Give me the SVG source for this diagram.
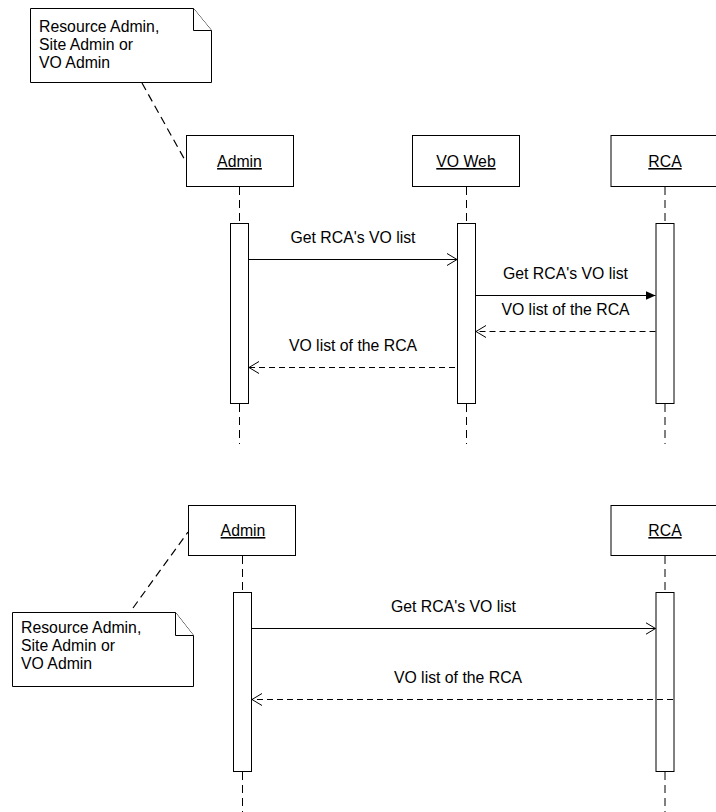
<svg xmlns="http://www.w3.org/2000/svg" width="716" height="812" viewBox="0 0 716 812">
  <style>
    .box { fill: #fff; stroke: #000; stroke-width: 1; }
    .act { fill: #fff; stroke: #000; stroke-width: 1; }
    .life { fill: none; stroke: #000; stroke-width: 1; stroke-dasharray: 8 5; }
    .msg { fill: none; stroke: #000; stroke-width: 1; }
    .ret { fill: none; stroke: #000; stroke-width: 1; stroke-dasharray: 6 4; }
    .anchor { fill: none; stroke: #000; stroke-width: 1.2; stroke-dasharray: 8 5; }
    .lbl { font-family: "Liberation Sans", Arial, sans-serif; font-size: 15.8px; fill: #000; }
    .name { font-family: "Liberation Sans", Arial, sans-serif; font-size: 15.8px; fill: #000; text-anchor: middle; text-decoration: underline; }
    .mid { text-anchor: middle; }
  </style>
  <defs>
    <marker id="open" markerWidth="12" markerHeight="14" refX="10" refY="7" orient="auto" markerUnits="userSpaceOnUse">
      <path d="M0,1 L10,7 L0,13" fill="none" stroke="#000" stroke-width="1"/>
    </marker>
    <marker id="solid" markerWidth="12" markerHeight="12" refX="10" refY="5" orient="auto" markerUnits="userSpaceOnUse">
      <path d="M0,0.5 L10,5 L0,9.5 Z" fill="#000"/>
    </marker>
  </defs>

  <rect width="716" height="812" fill="#fff"/>

  <!-- ===== First scenario: Admin / VO Web / RCA ===== -->
  <g id="note-top">
    <path class="box" d="M30.5,8.5 H193.5 L211.5,30.5 V82.5 H30.5 Z"/>
    <path class="box" d="M193.5,8.5 V30.5 H211.5"/>
    <text class="lbl" x="39" y="32">Resource Admin,</text>
    <text class="lbl" x="39" y="50">Site Admin or</text>
    <text class="lbl" x="39" y="68">VO Admin</text>
  </g>

  <g id="admin-top">
    <rect class="box" x="186.5" y="135.5" width="107" height="51"/>
    <text class="name" x="239.5" y="167">Admin</text>
    <line class="life" x1="239.5" y1="187" x2="239.5" y2="223"/>
    <rect class="act" x="230.5" y="223.5" width="18" height="180"/>
    <line class="life" x1="239.5" y1="404" x2="239.5" y2="444"/>
  </g>

  <g id="voweb-top">
    <rect class="box" x="412.5" y="135.5" width="107" height="51"/>
    <text class="name" x="466" y="167">VO Web</text>
    <line class="life" x1="466.5" y1="187" x2="466.5" y2="223"/>
    <rect class="act" x="457.5" y="223.5" width="18" height="180"/>
    <line class="life" x1="466.5" y1="404" x2="466.5" y2="444"/>
  </g>

  <g id="rca-top">
    <rect class="box" x="611" y="135.5" width="108" height="51"/>
    <text class="name" x="665" y="167">RCA</text>
    <line class="life" x1="665" y1="187" x2="665" y2="223" stroke="#444"/>
    <rect class="act" x="656" y="223.5" width="18" height="180"/>
    <line class="life" x1="665" y1="404" x2="665" y2="444"/>
  </g>

  <!-- ===== Second scenario: Admin / RCA ===== -->
  <g id="admin-bottom">
    <rect class="box" x="188.5" y="505.5" width="107" height="50"/>
    <text class="name" x="243" y="536">Admin</text>
    <line class="life" x1="242.5" y1="556" x2="242.5" y2="592"/>
    <rect class="act" x="233.5" y="592.5" width="18" height="179"/>
    <line class="life" x1="242.5" y1="772" x2="242.5" y2="812"/>
  </g>

  <g id="rca-bottom">
    <rect class="box" x="611" y="505.5" width="108" height="50"/>
    <text class="name" x="665" y="536">RCA</text>
    <line class="life" x1="665" y1="556" x2="665" y2="592"/>
    <rect class="act" x="656" y="592.5" width="18" height="179"/>
    <line class="life" x1="665" y1="772" x2="665" y2="812"/>
  </g>

  <g id="note-bottom">
    <path class="box" d="M12.5,612.5 H175.5 L193.5,635.5 V686.5 H12.5 Z"/>
    <path class="box" d="M175.5,612.5 V635.5 H193.5"/>
    <text class="lbl" x="21" y="633">Resource Admin,</text>
    <text class="lbl" x="21" y="651">Site Admin or</text>
    <text class="lbl" x="21" y="669">VO Admin</text>
  </g>

  <!-- ===== Connectors ===== -->
  <g id="connectors">
    <line class="anchor" x1="142" y1="83" x2="186" y2="162"/>
    <line class="anchor" x1="133" y1="608" x2="188" y2="532"/>

    <line class="msg" x1="248.5" y1="259.5" x2="457" y2="259.5" marker-end="url(#open)"/>
    <text class="lbl mid" x="353" y="243">Get RCA's VO list</text>

    <line class="msg" x1="475.5" y1="295.5" x2="655.5" y2="295.5" marker-end="url(#solid)"/>
    <text class="lbl mid" x="565.5" y="279">Get RCA's VO list</text>

    <line class="ret" x1="655.5" y1="331.5" x2="476" y2="331.5" marker-end="url(#open)"/>
    <text class="lbl mid" x="565.5" y="315">VO list of the RCA</text>

    <line class="ret" x1="455" y1="367.5" x2="249" y2="367.5" marker-end="url(#open)"/>
    <text class="lbl mid" x="353" y="351">VO list of the RCA</text>

    <line class="msg" x1="251.5" y1="628.5" x2="655.5" y2="628.5" marker-end="url(#open)"/>
    <text class="lbl mid" x="453.5" y="612">Get RCA's VO list</text>

    <line class="ret" x1="673" y1="699.5" x2="252" y2="699.5" marker-end="url(#open)"/>
    <text class="lbl mid" x="458" y="683">VO list of the RCA</text>
  </g>
</svg>
